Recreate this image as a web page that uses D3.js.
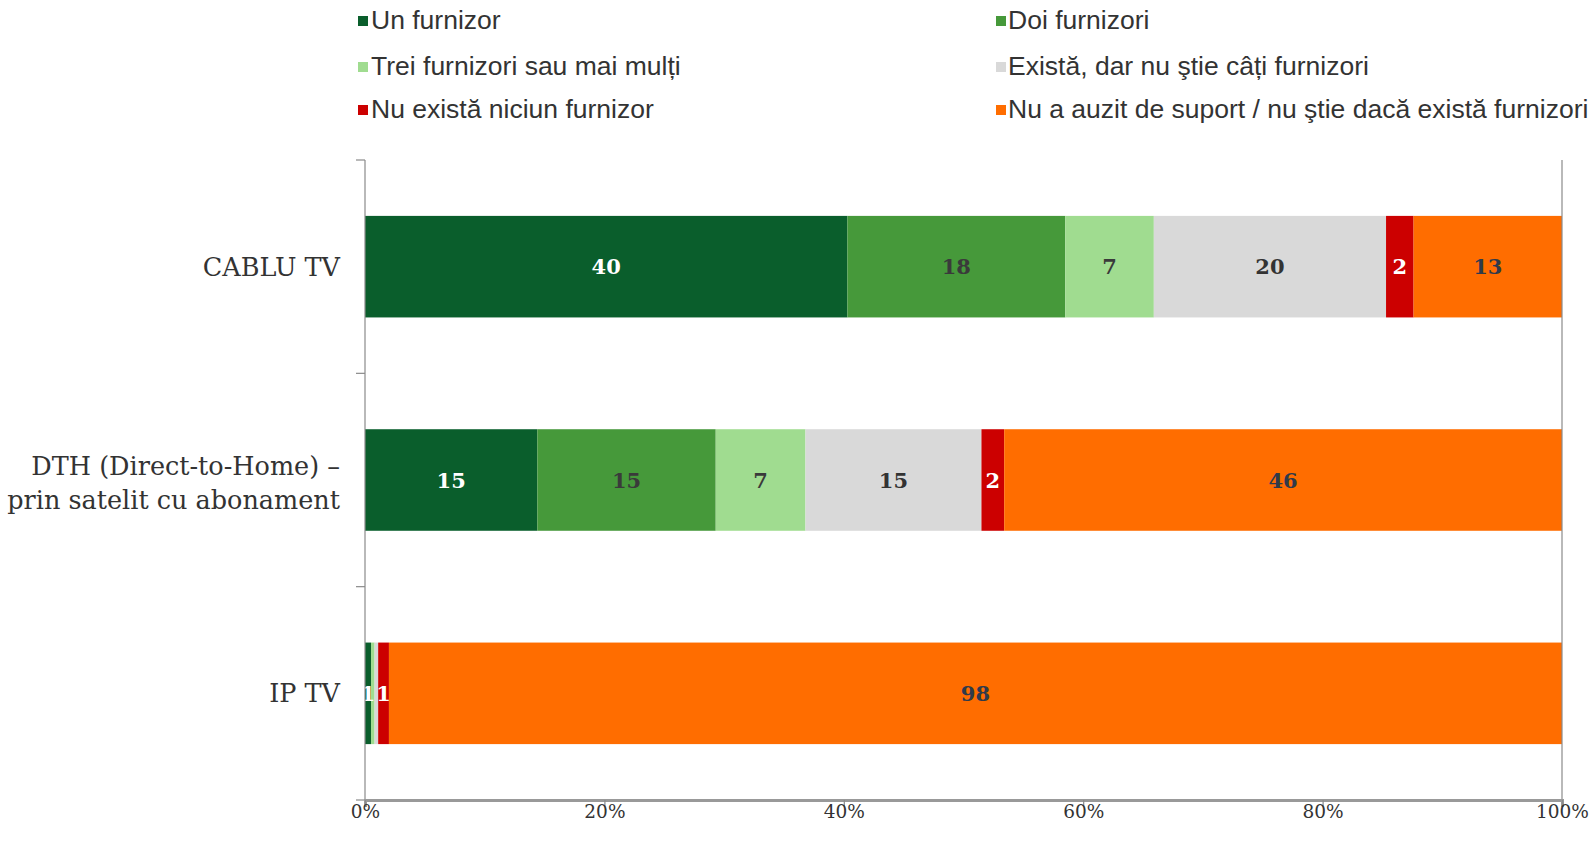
<!DOCTYPE html>
<html>
<head>
<meta charset="utf-8">
<title>Furnizori TV</title>
<script src="https://cdn.jsdelivr.net/npm/d3@7"></script>
<style>
  body { margin: 0; background: #fff; }
</style>
</head>
<body>
<div id="chart"></div>
<script>
// categories (top to bottom)
const categories = ["CABLU TV", "DTH (Direct-to-Home) –\nprin satelit cu abonament", "IP TV"];

// series, in stacking order
const seriesNames = [
  "Un furnizor",
  "Doi furnizori",
  "Trei furnizori sau mai mulți",
  "Există, dar nu ştie câți furnizori",
  "Nu există niciun furnizor",
  "Nu a auzit de suport / nu ştie dacă există furnizori"
];
const seriesColors = ["#0a5e2c", "#46993a", "#a0dc90", "#d9d9d9", "#cc0000", "#ff6d00"];
const labelColors  = ["#ffffff", "#3a3a3a", "#3a3a3a", "#333333", "#ffffff", "#2f3a4a"];

// bar values (%) per category
const cabluValues = [40.3, 18.2, 7.4, 19.4, 2.3, 12.4];
const dthValues   = [14.4, 14.9, 7.5, 14.7, 1.9, 46.6];
const iptvValues  = [0.5, 0, 0.3, 0.3, 0.9, 98.0];

// data labels printed on the bars
const cabluLabels = ["40", "18", "7", "20", "2", "13"];
const dthLabels   = ["15", "15", "7", "15", "2", "46"];
const iptvLabels  = ["1", "", "", "", "1", "98"];

const xTicks = [0, 20, 40, 60, 80, 100];

const values = [cabluValues, dthValues, iptvValues];
const labels = [cabluLabels, dthLabels, iptvLabels];

const W = 1594, H = 851;
const plot = {left: 365, right: 1562, top: 160, bottom: 800};

const svg = d3.select("#chart").append("svg")
    .attr("width", W)
    .attr("height", H);

const x = d3.scaleLinear().domain([0, 100]).range([plot.left, plot.right]);
const y = d3.scaleBand().domain(d3.range(categories.length))
    .range([plot.top, plot.bottom])
    .paddingInner(0.524)
    .paddingOuter(0.262);

// stacked rows
const rows = values.map(function(vals, i) {
  let acc = 0;
  return vals.map(function(v, j) {
    const seg = {cat: i, s: j, x0: acc, x1: acc + v, label: labels[i][j]};
    acc += v;
    return seg;
  });
});

const segs = rows.flat();

svg.append("g").selectAll("rect")
    .data(segs)
    .enter().append("rect")
    .attr("x", d => x(d.x0))
    .attr("y", d => y(d.cat))
    .attr("width", d => Math.max(0, x(d.x1) - x(d.x0)))
    .attr("height", y.bandwidth())
    .attr("fill", d => seriesColors[d.s]);

// labels on bars
svg.append("g").selectAll("text")
    .data(segs.filter(d => d.label !== ""))
    .enter().append("text")
    .attr("x", d => x((d.x0 + d.x1) / 2))
    .attr("y", d => y(d.cat) + y.bandwidth() / 2)
    .attr("text-anchor", "middle")
    .attr("dominant-baseline", "central")
    .style("font-family", "DejaVu Serif")
    .style("font-weight", "bold")
    .style("font-size", "21px")
    .style("fill", d => labelColors[d.s])
    .text(d => d.label);

// left axis line + category ticks
const axisColor = "#8a8a8a";
svg.append("line")
    .attr("x1", plot.left).attr("x2", plot.left)
    .attr("y1", plot.top).attr("y2", plot.bottom)
    .style("stroke", axisColor).style("stroke-width", 1.2);

svg.append("line")
    .attr("x1", plot.right).attr("x2", plot.right)
    .attr("y1", plot.top).attr("y2", plot.bottom)
    .style("stroke", axisColor).style("stroke-width", 1.2);

const bounds = d3.range(categories.length + 1).map(i => plot.top + i * y.step());
svg.append("g").selectAll("line")
    .data(bounds)
    .enter().append("line")
    .attr("x1", plot.left - 9).attr("x2", plot.left)
    .attr("y1", d => d).attr("y2", d => d)
    .style("stroke", axisColor).style("stroke-width", 1.2);

// category labels
const catText = svg.append("g").selectAll("text")
    .data(categories)
    .enter().append("text")
    .attr("text-anchor", "end")
    .style("font-family", "DejaVu Serif")
    .style("font-size", "25.5px")
    .style("fill", "#333");

catText.each(function(d, i) {
  const lines = d.split("\n");
  const cy = y(i) + y.bandwidth() / 2;
  const lh = 34;
  const t = d3.select(this);
  lines.forEach(function(l, k) {
    t.append("tspan")
      .attr("x", 340)
      .attr("y", cy + (k - (lines.length - 1) / 2) * lh + (lines.length > 1 ? 12 : 9))
      .text(l);
  });
});

// bottom axis
const xAxis = svg.append("g")
    .attr("transform", "translate(0," + plot.bottom + ")")
    .call(d3.axisBottom(x).tickValues(xTicks).tickSize(7).tickFormat(d => d + "%"));
xAxis.select(".domain").style("stroke", "#999").style("stroke-width", 3);
xAxis.selectAll(".tick line").style("stroke", axisColor).style("stroke-width", 1.2);
xAxis.selectAll(".tick text")
    .attr("y", 18)
    .attr("dy", 0)
    .style("font-family", "DejaVu Serif")
    .style("font-size", "18.5px")
    .style("fill", "#333");

// legend, two columns
const legendSquareX = [358, 996];
const legendTextX = [371, 1008];
const legendRows = [20, 66, 109];
const legend = svg.append("g").selectAll("g")
    .data(seriesNames)
    .enter().append("g")
    .attr("transform", (d, i) => "translate(0," + legendRows[Math.floor(i / 2)] + ")");

legend.append("rect")
    .attr("x", (d, i) => legendSquareX[i % 2]).attr("y", -4)
    .attr("width", 10).attr("height", 10)
    .attr("fill", (d, i) => seriesColors[i]);

legend.append("text")
    .attr("x", (d, i) => legendTextX[i % 2])
    .attr("y", 0)
    .attr("dominant-baseline", "central")
    .style("font-family", "Liberation Sans")
    .style("font-size", "26.5px")
    .style("fill", "#333")
    .text(d => d);
</script>
</body>
</html>
